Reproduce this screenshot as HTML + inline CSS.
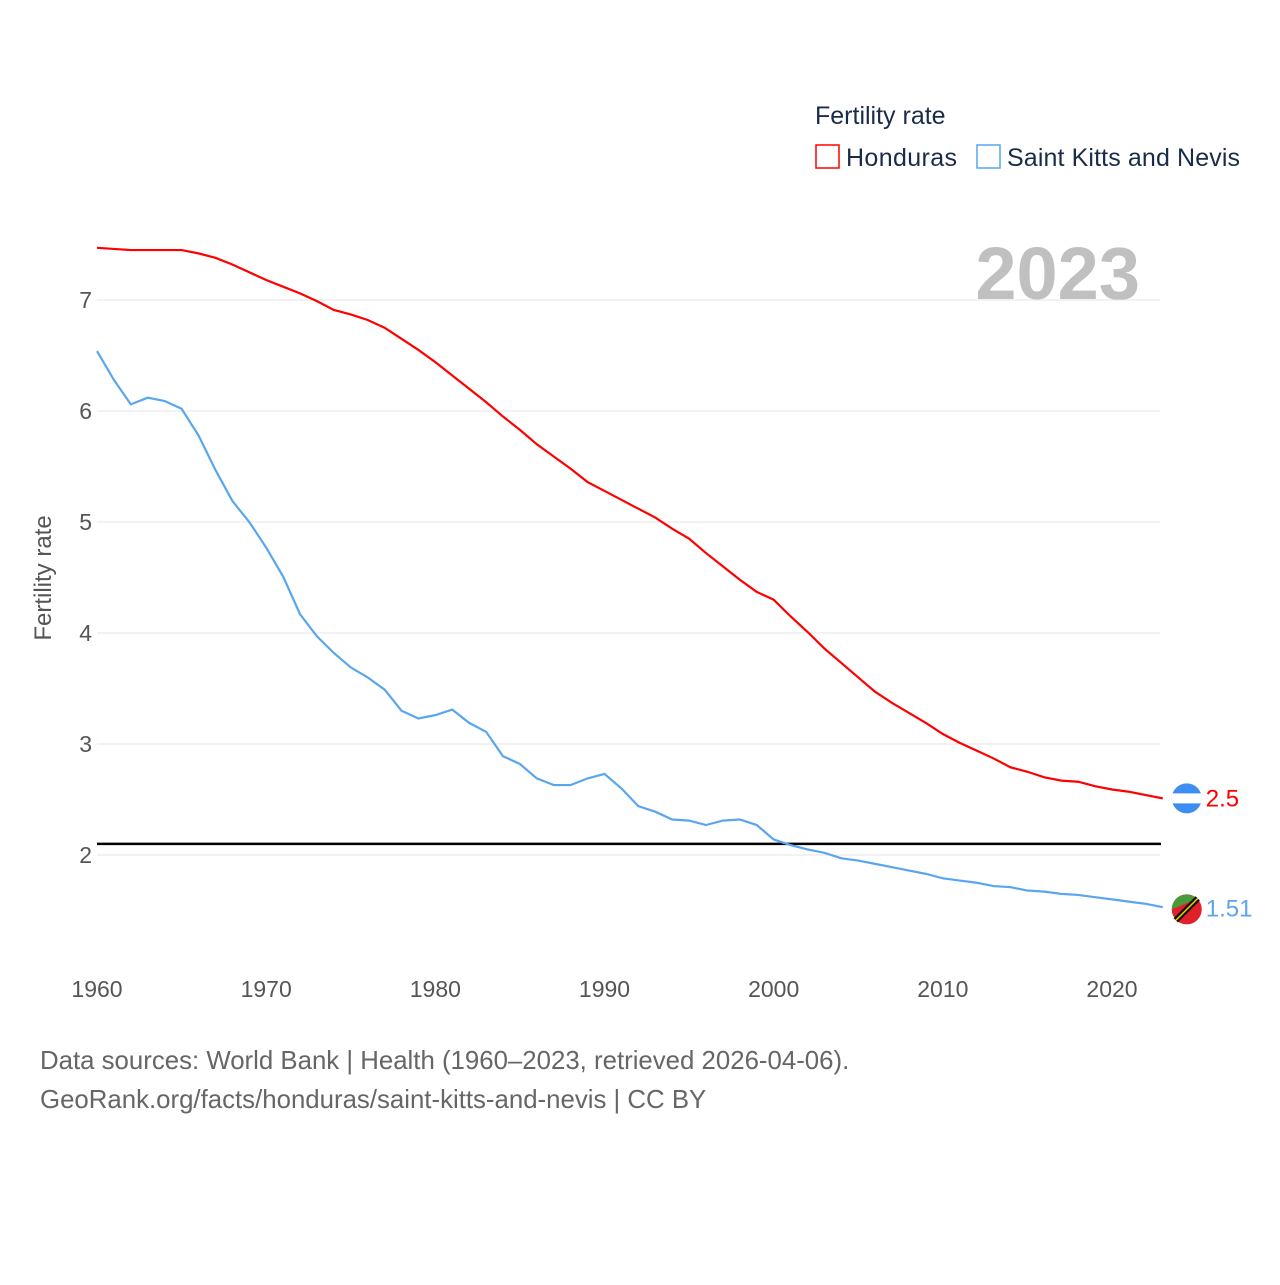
<!DOCTYPE html>
<html><head><meta charset="utf-8">
<style>
body{margin:0;background:#fff;font-family:"Liberation Sans",sans-serif;}
svg text{font-family:"Liberation Sans",sans-serif;}
</style></head>
<body>
<svg id="chart" width="1280" height="1280" xmlns="http://www.w3.org/2000/svg">
<text x="815" y="124" font-size="25" fill="#1a2b4a">Fertility rate</text>
<g>
<rect x="816" y="145" width="23" height="23" fill="none" stroke="#ff0000" stroke-width="1.5"/>
<text x="846" y="166" font-size="25" fill="#1a2b4a" textLength="111">Honduras</text></g>
<g>
<rect x="977" y="145" width="23" height="23" fill="none" stroke="#5aa6ee" stroke-width="1.5"/>
<text x="1007" y="166" font-size="25" fill="#1a2b4a" textLength="233">Saint Kitts and Nevis</text></g>
<text x="1140" y="299" font-size="74" font-weight="bold" fill="#c0c0c0" text-anchor="end">2023</text>
<text transform="translate(51,578) rotate(-90)" font-size="24" fill="#555" text-anchor="middle">Fertility rate</text>
<g id="grid"></g><g id="series"></g>
<text x="40" y="1069" font-size="25.8" fill="#666">Data sources: World Bank | Health (1960–2023, retrieved 2026-04-06).</text>
<text x="40" y="1108" font-size="25.8" fill="#666">GeoRank.org/facts/honduras/saint-kitts-and-nevis | CC BY</text>
</svg>
<script>
const years=[];for(let y=1960;y<=2023;y++)years.push(y);
const honduras=[7.47,7.46,7.45,7.45,7.45,7.45,7.42,7.38,7.32,7.25,7.18,7.12,7.06,6.99,6.91,6.87,6.82,6.75,6.65,6.55,6.44,6.32,6.2,6.08,5.95,5.83,5.7,5.59,5.48,5.36,5.28,5.2,5.12,5.04,4.94,4.85,4.72,4.6,4.48,4.37,4.3,4.15,4.01,3.86,3.73,3.6,3.47,3.37,3.28,3.19,3.09,3.01,2.94,2.87,2.79,2.75,2.7,2.67,2.66,2.62,2.59,2.57,2.54,2.51];
const skn=[6.54,6.28,6.06,6.12,6.09,6.02,5.78,5.47,5.19,5.0,4.77,4.51,4.17,3.97,3.82,3.69,3.6,3.49,3.3,3.23,3.26,3.31,3.19,3.11,2.89,2.82,2.69,2.63,2.63,2.69,2.73,2.6,2.44,2.39,2.32,2.31,2.27,2.31,2.32,2.27,2.14,2.09,2.05,2.02,1.97,1.95,1.92,1.89,1.86,1.83,1.79,1.77,1.75,1.72,1.71,1.68,1.67,1.65,1.64,1.62,1.6,1.58,1.56,1.53,1.51];
const yTicks=[2,3,4,5,6,7];
const xTicks=[1960,1970,1980,1990,2000,2010,2020];
const replacementRate=2.1;
const endLabels=["2.5","1.51"];
const NS="http://www.w3.org/2000/svg";
const xs=y=>97+(y-1960)*1015/60;
const ys=v=>855-(v-2)*111;
function mk(tag,attrs,parent){const e=document.createElementNS(NS,tag);for(const k in attrs)e.setAttribute(k,attrs[k]);parent.appendChild(e);return e;}
const grid=document.getElementById('grid'),ser=document.getElementById('series');
yTicks.forEach(t=>{
 const l=mk('line',{x1:97,x2:1160,y1:ys(t),y2:ys(t),stroke:'#e6e6e6','stroke-width':1},grid);
 
 
 const tx=mk('text',{x:92,y:ys(t)+8,'font-size':23,fill:'#555','text-anchor':'end'},grid);tx.textContent=t;
 
 
});
xTicks.forEach(t=>{
 const tx=mk('text',{x:xs(t),y:997,'font-size':23,fill:'#555','text-anchor':'middle'},grid);tx.textContent=t;
 
 
});
const rl=mk('line',{x1:97,x2:1161,y1:ys(replacementRate),y2:ys(replacementRate),stroke:'#000','stroke-width':2.5},ser);


function line(data,color,name){
 const p=mk('polyline',{points:data.map((v,i)=>xs(years[i])+','+ys(v)).join(' '),fill:'none',stroke:color,'stroke-width':2.2},ser);
 
 
}
line(honduras,'#ff0000','honduras-line');
line(skn,'#5aa6ee','saint-kitts-and-nevis-line');
const lx=xs(2023);
const hy=ys(honduras[honduras.length-1]), sy=ys(skn[skn.length-1]);
const f1=mk('circle',{cx:lx+24,cy:hy,r:15,fill:'#3d8ef0'},ser);


mk('rect',{x:lx+9,y:hy-5,width:30,height:10,fill:'#fff'},ser);
const f2=mk('circle',{cx:lx+24,cy:sy,r:15,fill:'#e0202a'},ser);


mk('path',{d:`M${lx+9},${sy} A15,15 0 0 1 ${lx+24+10.6},${sy-10.6} Z`,fill:'#4a9a3a'},ser);
mk('line',{x1:lx+13,y1:sy+11,x2:lx+35,y2:sy-11,stroke:'#111','stroke-width':6},ser);
mk('line',{x1:lx+13,y1:sy+11,x2:lx+35,y2:sy-11,stroke:'#f5d000','stroke-width':1.5},ser);
const t1=mk('text',{x:lx+43,y:hy+8,'font-size':24,fill:'#ff0000'},ser);t1.textContent=endLabels[0];


const t2=mk('text',{x:lx+43,y:sy+7,'font-size':24,fill:'#5aa6ee'},ser);t2.textContent=endLabels[1];


</script>
</body></html>
